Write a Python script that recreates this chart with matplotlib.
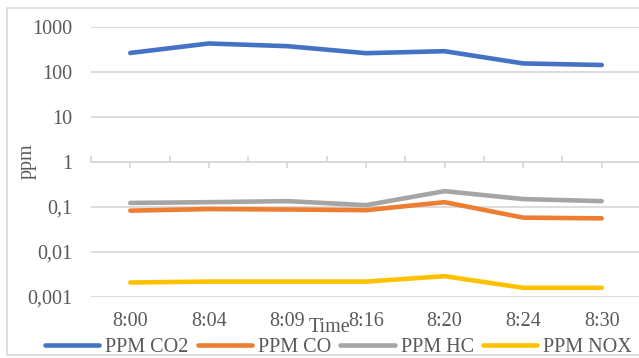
import numpy as np
import matplotlib.pyplot as plt
from matplotlib.patches import Rectangle
from matplotlib.ticker import FixedLocator, NullFormatter

## ------------------
## Data
## ------------------
times = ["8:00", "8:04", "8:09", "8:16", "8:20", "8:24", "8:30"]
ppm_co2 = [265, 430, 375, 262, 290, 155, 143]
ppm_co = [0.083, 0.090, 0.088, 0.085, 0.128, 0.058, 0.056]
ppm_hc = [0.123, 0.128, 0.135, 0.110, 0.225, 0.150, 0.135]
ppm_nox = [0.0021, 0.0022, 0.0022, 0.0022, 0.0029, 0.0016, 0.0016]

series_names = ["PPM CO2", "PPM CO", "PPM HC", "PPM NOX"]
colors = ["#4472C4", "#ED7D31", "#A5A5A5", "#FFC000"]
ytick_vals = [1000, 100, 10, 1, 0.1, 0.01, 0.001]
ytick_labels = ["1000", "100", "10", "1", "0,1", "0,01", "0,001"]

text_color = "#595959"
grid_color = "#D9D9D9"

plt.rcParams['font.family'] = ['Liberation Serif', 'DejaVu Serif']

## ------------------
## Figure / axes
## ------------------
W, H = 639, 358
fig = plt.figure(figsize=(W / 100, H / 100), dpi=100)
# plot area in pixels: left 91, right 641, top 27, bottom 297
ax = fig.add_axes([91 / W, 1 - 297 / H, 550 / W, 270 / H])

x = np.arange(len(times))
for vals, name, c in zip([ppm_co2, ppm_co, ppm_hc, ppm_nox], series_names, colors):
    ax.plot(x, vals, color=c, lw=3.3, solid_capstyle='round', solid_joinstyle='round',
            label=name, zorder=3)

ax.set_yscale('log')
ax.set_ylim(0.001, 1000)
ax.set_xlim(-0.5, len(times) - 0.5)

## y axis: decade gridlines, labels with comma decimals
ax.yaxis.set_major_locator(FixedLocator(ytick_vals))
ax.yaxis.set_minor_locator(FixedLocator([]))
ax.set_yticks(ytick_vals)
ax.set_yticklabels(ytick_labels)
ax.tick_params(axis='y', length=0, pad=13.5, labelsize=14.5, labelcolor=text_color)
ax.grid(axis='y', color=grid_color, lw=1.3, zorder=0)

## x axis crosses at 1, labels sit at the bottom of the plot area
for s in ['top', 'right', 'left']:
    ax.spines[s].set_visible(False)
ax.spines['bottom'].set_position(('data', 1))
ax.spines['bottom'].set_color(grid_color)
ax.spines['bottom'].set_linewidth(1.3)
ax.set_xticks(x)
ax.set_xticks(np.arange(len(times)) - 0.5, minor=True)
ax.xaxis.set_major_formatter(NullFormatter())
ax.tick_params(axis='x', which='major', direction='out', length=4, width=1.3, color=grid_color)
ax.tick_params(axis='x', which='minor', direction='in', length=4, width=1.3, color=grid_color)
for xi, lab in zip(x, times):
    ax.text(xi, -25 / 270, lab, transform=ax.get_xaxis_transform(), ha='center', va='center',
            fontsize=14.5, color=text_color, clip_on=False)

## axis titles
fig.text(330 / W, 1 - 328 / H, "Time", ha='center', va='center', fontsize=14.5, color=text_color)
fig.text(27 / W, 1 - 161 / H, "ppm", ha='center', va='center', rotation=90,
         fontsize=14.5, color=text_color)

## legend along the bottom
fig.legend(loc='center', bbox_to_anchor=(338.5 / W, 1 - 347 / H), ncol=4, frameon=False,
           fontsize=14.5, labelcolor=text_color, handlelength=2.7, handletextpad=0.3,
           columnspacing=0.45, borderpad=0, borderaxespad=0)

## chart border
fig.patches.append(Rectangle((7 / W, 1 - 355 / H), 700 / W, 347 / H, transform=fig.transFigure,
                             fill=False, edgecolor=grid_color, lw=1.2))

fig.savefig("out.png", dpi=100)
